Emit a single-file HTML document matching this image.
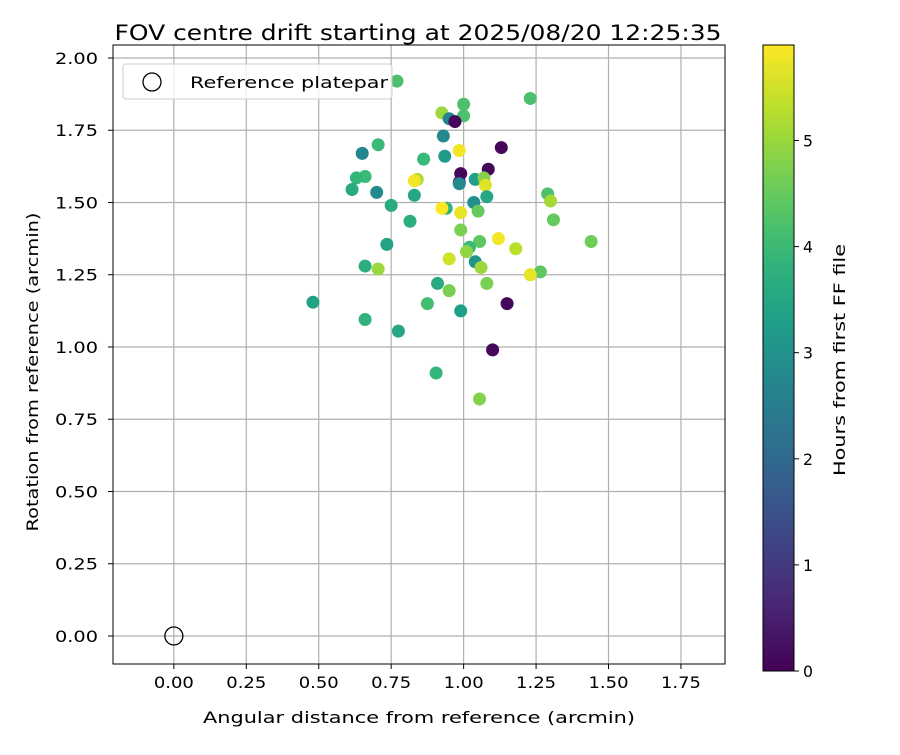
<!DOCTYPE html>
<html><head><meta charset="utf-8"><style>
body{margin:0;background:#fff;font-family:"Liberation Sans","DejaVu Sans",sans-serif}
svg text{font-family:"DejaVu Sans","Liberation Sans",sans-serif}
</style></head><body>
<svg id="c" width="900" height="750" xmlns="http://www.w3.org/2000/svg"></svg>
<script>
const xs=[0.77,1.23,1.00,0.925,1.00,0.95,0.97,0.93,1.13,0.705,0.65,0.985,0.862,0.935,1.085,0.99,0.66,0.63,0.84,0.83,0.985,0.985,1.04,1.07,1.075,0.615,0.70,1.29,0.83,1.08,1.035,1.30,0.75,0.94,0.925,0.99,1.05,0.815,1.31,0.99,0.735,1.12,1.055,1.44,1.02,1.01,1.18,0.95,1.04,1.06,0.66,0.705,1.265,1.23,0.91,1.08,0.95,0.48,0.875,1.15,0.99,0.66,0.775,1.10,0.905,1.055];
const ys=[1.92,1.86,1.84,1.81,1.80,1.79,1.78,1.73,1.69,1.70,1.67,1.68,1.65,1.66,1.615,1.60,1.59,1.585,1.58,1.575,1.57,1.565,1.58,1.585,1.56,1.545,1.535,1.53,1.525,1.52,1.50,1.505,1.49,1.48,1.48,1.465,1.47,1.435,1.44,1.405,1.355,1.375,1.365,1.365,1.345,1.33,1.34,1.305,1.295,1.275,1.28,1.27,1.26,1.25,1.22,1.22,1.195,1.155,1.15,1.15,1.125,1.095,1.055,0.99,0.91,0.82];
const hours=[4.2,4.2,4.2,5.0,4.2,2.7,0.1,2.8,0.1,4.0,2.7,5.8,4.0,3.2,0.1,0.1,4.0,3.9,5.2,5.8,0.2,2.8,3.3,4.8,5.6,3.6,2.8,4.2,3.5,3.5,2.9,5.1,3.6,3.8,5.9,5.7,4.5,3.7,4.5,4.7,3.4,5.8,4.4,4.6,4.0,4.9,5.3,5.5,3.0,5.0,3.7,5.0,4.4,5.7,3.6,4.7,4.7,3.4,4.1,0.1,3.3,3.8,3.5,0.1,3.9,4.8];
const xTicks=[0,0.25,0.5,0.75,1.0,1.25,1.5,1.75];
const yTicks=[0,0.25,0.5,0.75,1.0,1.25,1.5,1.75,2.0];
const cTicks=[0,1,2,3,4,5];
const L=113,R=725,T=45,B=664,XMIN=-0.21,XMAX=1.902,YMIN=-0.097,YMAX=2.045,HMAX=5.9;
const X=v=>L+(v-XMIN)/(XMAX-XMIN)*(R-L);
const Y=v=>B-(v-YMIN)/(YMAX-YMIN)*(B-T);
const V=[[68,1,84],[72,40,120],[62,73,137],[49,104,142],[38,130,142],[31,158,137],[53,183,121],[109,205,89],[180,222,44],[253,231,37]];
function vir(t){t=Math.max(0,Math.min(1,t))*9;const i=Math.min(8,Math.floor(t)),f=t-i;const c=V[i].map((a,k)=>Math.round(a+(V[i+1][k]-a)*f));return `rgb(${c})`;}
const s=document.getElementById('c');const NS='http://www.w3.org/2000/svg';
function el(tag,at,txt){const e=document.createElementNS(NS,tag);for(const k in at)e.setAttribute(k,at[k]);if(txt!==undefined)e.textContent=txt;s.appendChild(e);return e;}
const FIT={lengthAdjust:'spacingAndGlyphs'};
let e;
e=el('text',Object.assign({x:418,y:40,'text-anchor':'middle','font-size':'21',textLength:607},FIT),'FOV centre drift starting at 2025/08/20 12:25:35');


xTicks.forEach(t=>{const x=X(t);
e=el('line',{x1:x,x2:x,y1:T,y2:B,stroke:'#b0b0b0','stroke-width':1.2});


el('line',{x1:x,x2:x,y1:B,y2:B+5,stroke:'#000'});
e=el('text',Object.assign({x:x,y:B+24,'text-anchor':'middle','font-size':'16',textLength:40},FIT),t.toFixed(2));

});
yTicks.forEach(t=>{const y=Y(t);
e=el('line',{x1:L,x2:R,y1:y,y2:y,stroke:'#b0b0b0','stroke-width':1.2});


el('line',{x1:L-5,x2:L,y1:y,y2:y,stroke:'#000'});
e=el('text',Object.assign({x:L-58,y:y+6,'font-size':'16',textLength:43},FIT),t.toFixed(2));

});
xs.forEach((v,i)=>{e=el('circle',{cx:X(v),cy:Y(ys[i]),r:6.5,fill:vir(hours[i]/HMAX)});

});
e=el('circle',{cx:X(0),cy:Y(0),r:9,fill:'none',stroke:'#000','stroke-width':1.3});


e=el('rect',{x:L,y:T,width:R-L,height:B-T,fill:'none',stroke:'#000','stroke-width':1});


e=el('rect',{x:123,y:64,width:269,height:35,rx:3,fill:'rgba(255,255,255,0.8)',stroke:'#ccc'});


el('circle',{cx:152,cy:82,r:9,fill:'none',stroke:'#000','stroke-width':1.3});
e=el('text',Object.assign({x:190,y:88,'font-size':'16',textLength:198},FIT),'Reference platepar');


e=el('text',Object.assign({x:419,y:723,'text-anchor':'middle','font-size':'16',textLength:432},FIT),'Angular distance from reference (arcmin)');


e=el('text',Object.assign({x:0,y:0,'text-anchor':'middle','font-size':'16',textLength:319,transform:'translate(38,372) rotate(-90)'},FIT),'Rotation from reference (arcmin)');


const CB_L=763,CB_R=794,CB_T=45,CB_B=671;
const defs=el('defs',{});const g=document.createElementNS(NS,'linearGradient');g.setAttribute('id','vg');g.setAttribute('x1','0');g.setAttribute('y1','1');g.setAttribute('x2','0');g.setAttribute('y2','0');
for(let i=0;i<=20;i++){const st=document.createElementNS(NS,'stop');st.setAttribute('offset',i/20);st.setAttribute('stop-color',vir(i/20));g.appendChild(st);}defs.appendChild(g);
e=el('rect',{x:CB_L,y:CB_T,width:CB_R-CB_L,height:CB_B-CB_T,fill:'url(#vg)',stroke:'#000'});


const CY=v=>CB_B-v/HMAX*(CB_B-CB_T);
cTicks.forEach(t=>{const y=CY(t);el('line',{x1:CB_R,x2:CB_R+5,y1:y,y2:y,stroke:'#000'});
e=el('text',Object.assign({x:CB_R+9,y:y+6,'font-size':'16',textLength:10},FIT),String(t));

});
e=el('text',Object.assign({x:0,y:0,'text-anchor':'middle','font-size':'16',textLength:232,transform:'translate(845,360) rotate(-90)'},FIT),'Hours from first FF file');


</script>
</body></html>
